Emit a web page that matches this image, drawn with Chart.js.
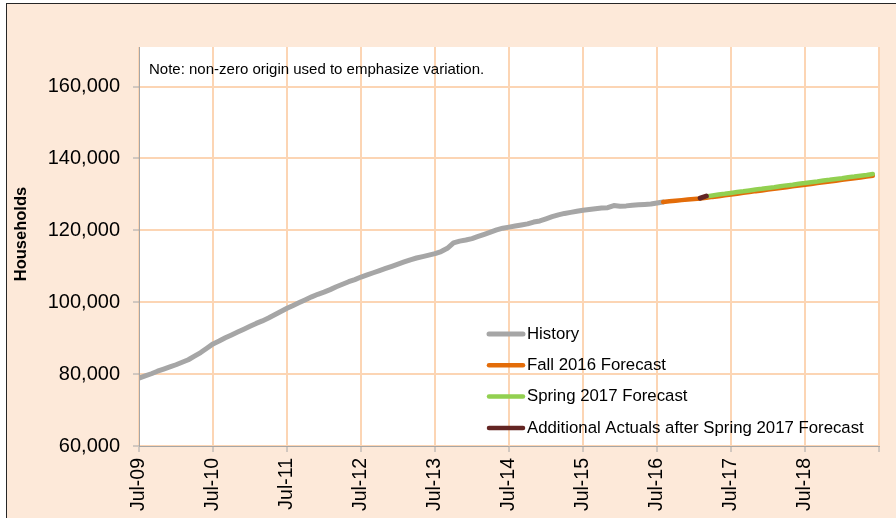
<!DOCTYPE html>
<html>
<head>
<meta charset="utf-8">
<script src="https://cdn.jsdelivr.net/npm/chart.js@4/dist/chart.umd.min.js"></script>
<style>
    html, body { margin: 0; padding: 0; background: #ffffff; overflow: hidden; }
    #frame {
        position: absolute; left: 6px; top: 3px; width: 900px; height: 520px;
        background: #FDE9D9; border-left: 1.5px solid #262626; border-top: 1.5px solid #262626;
    }
    #householdsChart { position: absolute; left: 0; top: 0; }
</style>
</head>
<body>
<div id="frame"></div>
<canvas id="householdsChart" width="896" height="518"></canvas>
<script>
// tick labels along the x axis (one per July, month index 0, 12, 24 ...)
const xLabels = ['Jul-09', 'Jul-10', 'Jul-11', 'Jul-12', 'Jul-13', 'Jul-14', 'Jul-15', 'Jul-16', 'Jul-17', 'Jul-18'];
const seriesNames = ['History', 'Fall 2016 Forecast', 'Spring 2017 Forecast', 'Additional Actuals after Spring 2017 Forecast'];
const seriesColors = ['#A6A6A6', '#E36C09', '#92D050', '#632523'];

// monthly values, each series starts at a month index counted from Jul-09
const historyStart = 0;
const history = [
    78900, 79500, 80100, 80800, 81400, 82000, 82600, 83300, 84000, 85000, 86000, 87200, 88400,
    89200, 90100, 90900, 91700, 92500, 93300, 94100, 94800, 95600, 96500, 97400, 98300,
    99100, 99900, 100700, 101500, 102200, 102800, 103500, 104300, 105000, 105700, 106300, 107000,
    107600, 108200, 108800, 109400, 110000, 110600, 111200, 111800, 112300, 112700, 113100, 113500,
    114100, 115000, 116500, 117000, 117300, 117700, 118300, 118900, 119500, 120100, 120600, 120900,
    121200, 121500, 121800, 122300, 122600, 123200, 123800, 124300, 124700, 125000, 125300, 125600,
    125800, 126000, 126200, 126300, 126900, 126700, 126800, 127000, 127100, 127200, 127300, 127600, 127900
];
const fallStart = 85;
const fall2016 = [
    127900, 128100, 128250, 128400, 128550, 128700, 128850, 129050, 129300, 129500, 129750, 129950,
    130200, 130450, 130650, 130900, 131100, 131350, 131550, 131800, 132000, 132250, 132450, 132700,
    132900, 133150, 133350, 133600, 133800, 134050, 134250, 134500, 134700, 134950, 135150
];
const springStart = 92;
const spring2017 = [
    129450, 129700, 129950, 130150, 130400, 130650, 130850, 131100, 131350, 131550, 131800, 132000,
    132250, 132500, 132700, 132950, 133150, 133400, 133600, 133850, 134050, 134300, 134500, 134750,
    134950, 135200, 135400, 135650
];
const actualsStart = 91;
const additionalActuals = [128950, 129550];

const yTicks = [60000, 80000, 100000, 120000, 140000, 160000];

const fontFamily = '"Liberation Sans", Arial, sans-serif';

function toPoints(values, start) {
    return values.map((v, i) => ({ x: start + i, y: v }));
}

// white plot area, note, axis title and legend
const decorations = {
    id: 'decorations',
    beforeDraw(chart) {
        const { ctx, chartArea } = chart;
        ctx.save();
        ctx.fillStyle = '#ffffff';
        ctx.fillRect(chartArea.left, chartArea.top, chartArea.right - chartArea.left, chartArea.bottom - chartArea.top);
        ctx.restore();
    },
    afterDraw(chart) {
        const { ctx, chartArea } = chart;
        ctx.save();
        ctx.fillStyle = '#000000';
        ctx.textBaseline = 'middle';

        // note
        ctx.font = '15px ' + fontFamily;
        ctx.textAlign = 'left';
        ctx.fillText('Note: non-zero origin used to emphasize variation.', chartArea.left + 10, chartArea.top + 23);

        // y axis title
        ctx.save();
        ctx.translate(21, 234);
        ctx.rotate(-Math.PI / 2);
        ctx.font = 'bold 16.5px ' + fontFamily;
        ctx.textAlign = 'center';
        ctx.fillText('Households', 0, 0);
        ctx.restore();

        // legend
        ctx.font = '16.8px ' + fontFamily;
        ctx.lineCap = 'round';
        const x0 = chartArea.right - 390;
        seriesNames.forEach((name, i) => {
            const y = chartArea.bottom - 112 + i * 31.3;
            ctx.strokeStyle = seriesColors[i];
            ctx.lineWidth = i === 0 ? 5 : 4.5;
            ctx.beginPath();
            ctx.moveTo(x0, y);
            ctx.lineTo(x0 + 34, y);
            ctx.stroke();
            ctx.fillStyle = '#000000';
            ctx.fillText(name, x0 + 38, y);
        });
        ctx.restore();
    }
};

const lineStyle = {
    pointRadius: 0,
    tension: 0,
    fill: false,
    borderCapStyle: 'round',
    borderJoinStyle: 'round'
};

const ctx = document.getElementById('householdsChart').getContext('2d');
const householdsChart = new Chart(ctx, {
    type: 'line',
    data: {
        datasets: [
            { ...lineStyle, label: seriesNames[0], data: toPoints(history, historyStart), borderColor: seriesColors[0], borderWidth: 5, order: 4 },
            { ...lineStyle, label: seriesNames[1], data: toPoints(fall2016, fallStart), borderColor: seriesColors[1], borderWidth: 4.5, order: 3 },
            { ...lineStyle, label: seriesNames[2], data: toPoints(spring2017, springStart), borderColor: seriesColors[2], borderWidth: 4.5, order: 2 },
            { ...lineStyle, label: seriesNames[3], data: toPoints(additionalActuals, actualsStart), borderColor: seriesColors[3], borderWidth: 5, order: 1 }
        ]
    },
    options: {
        responsive: false,
        animation: false,
        devicePixelRatio: 1,
        layout: { padding: { top: 47, right: 17, left: 0, bottom: 0 } },
        plugins: {
            legend: { display: false },
            tooltip: { enabled: false }
        },
        scales: {
            x: {
                type: 'linear',
                min: 0,
                max: 120,
                afterFit: scale => {
                    scale.height = 72;
                    scale.paddingLeft = 0;
                    scale.paddingRight = 0;
                },
                grid: { color: '#FCD5B4', lineWidth: 2, tickColor: '#A6A6A6', tickLength: 6, tickWidth: 1 },
                border: { color: '#A6A6A6', width: 1 },
                ticks: {
                    stepSize: 12,
                    autoSkip: false,
                    maxRotation: 90,
                    minRotation: 90,
                    padding: 6,
                    color: '#000000',
                    font: { family: fontFamily, size: 19.5 },
                    callback: value => xLabels[value / 12] || ''
                }
            },
            y: {
                min: 60000,
                max: 171000,
                afterBuildTicks: scale => {
                    scale.ticks = yTicks.map(v => ({ value: v }));
                },
                afterFit: scale => {
                    scale.width = 139;
                    scale.paddingTop = 0;
                    scale.paddingBottom = 0;
                },
                grid: { color: '#FCD5B4', lineWidth: 2, tickColor: '#A6A6A6', tickLength: 6, tickWidth: 1 },
                border: { color: '#A6A6A6', width: 1 },
                ticks: {
                    padding: 13,
                    color: '#000000',
                    font: { family: fontFamily, size: 20 },
                    callback: value => value.toLocaleString('en-US')
                }
            }
        }
    },
    plugins: [decorations]
});
</script>
</body>
</html>
